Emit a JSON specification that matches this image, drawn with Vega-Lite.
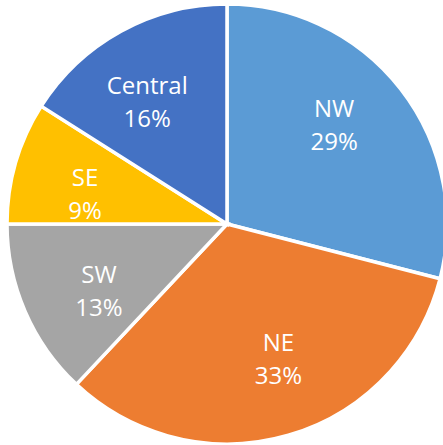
{
  "$schema": "https://vega.github.io/schema/vega-lite/v6.json",
  "width": 432,
  "height": 442,
  "autosize": {"type": "none"},
  "padding": {"left": 11, "top": 3, "right": 0, "bottom": 0},
  "background": "white",
  "config": {"view": {"stroke": null}},
  "data": {
    "values": [
      {"region": "NW", "pct": 29},
      {"region": "NE", "pct": 33},
      {"region": "SW", "pct": 13},
      {"region": "SE", "pct": 9},
      {"region": "Central", "pct": 16}
    ]
  },
  "transform": [
    {"window": [{"op": "row_number", "as": "order"}]},
    {"calculate": "datum.region + '\\n' + datum.pct + '%'", "as": "label"}
  ],
  "encoding": {
    "theta": {"field": "pct", "type": "quantitative", "stack": true},
    "order": {"field": "order", "type": "quantitative"},
    "color": {
      "field": "region",
      "type": "nominal",
      "scale": {
        "domain": ["NW", "NE", "SW", "SE", "Central"],
        "range": ["#5B9BD5", "#ED7D31", "#A5A5A5", "#FFC000", "#4472C4"]
      },
      "legend": null
    }
  },
  "layer": [
    {"mark": {"type": "arc", "radius": 220, "stroke": "white", "strokeWidth": 3.5}},
    {
      "mark": {
        "type": "text",
        "radius": 145,
        "thetaOffset": -0.08,
        "dy": -16,
        "font": "Open Sans",
        "fontSize": 24,
        "lineHeight": 33,
        "lineBreak": "\n",
        "baseline": "middle",
        "align": "center"
      },
      "encoding": {
        "text": {"field": "label", "type": "nominal"},
        "color": {"value": "white"}
      }
    }
  ]
}
